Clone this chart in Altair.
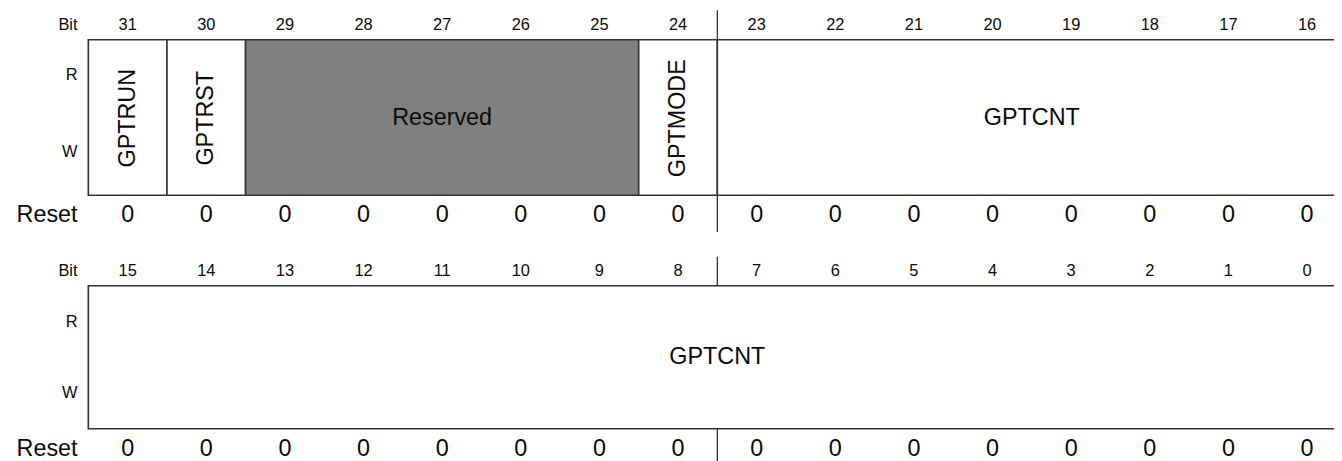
import altair as alt
import pandas as pd

# ---------------- data ----------------
BITS_ROW1 = [31, 30, 29, 28, 27, 26, 25, 24, 23, 22, 21, 20, 19, 18, 17, 16]
BITS_ROW2 = [15, 14, 13, 12, 11, 10, 9, 8, 7, 6, 5, 4, 3, 2, 1, 0]
RESET_ROW1 = [0, 0, 0, 0, 0, 0, 0, 0, 0, 0, 0, 0, 0, 0, 0, 0]
RESET_ROW2 = [0, 0, 0, 0, 0, 0, 0, 0, 0, 0, 0, 0, 0, 0, 0, 0]

FIELD_NAMES = ["GPTRUN", "GPTRST", "Reserved", "GPTMODE", "GPTCNT", "GPTCNT"]
FIELD_MSB = [31, 30, 29, 24, 23, 15]
FIELD_LSB = [31, 30, 25, 24, 16, 0]
FIELD_ROW = [1, 1, 1, 1, 1, 2]
FIELD_RESERVED = [False, False, True, False, False, False]
FIELD_VERTICAL = [True, True, False, True, False, False]

ACCESS_LABELS = ["R", "W"]
DIVIDER_BIT = {1: 23, 2: 7}   # byte boundary marker (left edge of this bit)

# ---------------- layout ----------------
FONT = "Liberation Sans"
BIG, SMALL = 23.5, 16.5
W, H = 1334, 453
LEFT_PX = 88.8 - 8      # box left edge in plot pixels
COL_PX = 79.1           # one bit column in pixels
DMIN = -LEFT_PX / COL_PX
DMAX = DMIN + W / COL_PX
XS = alt.Scale(domain=[DMIN, DMAX], nice=False, zero=False)
LABEL_COL = (78 - 88.8) / COL_PX   # right edge of side labels in column units

ROW_Y = {
    1: dict(bit=16, top=30.5, r=66, w=144, bot=187, reset=207, mid=109.5, d0=1, d1=224),
    2: dict(bit=263, top=278, r=315, w=386, bot=422, reset=442, mid=350, d0=249, d1=470),
}
ROW_MSB = {1: 31, 2: 15}
BITS = {1: BITS_ROW1, 2: BITS_ROW2}
RESETS = {1: RESET_ROW1, 2: RESET_ROW2}

fields = pd.DataFrame({
    "name": FIELD_NAMES, "msb": FIELD_MSB, "lsb": FIELD_LSB, "row": FIELD_ROW,
    "reserved": FIELD_RESERVED, "vertical": FIELD_VERTICAL,
})
fields["x0"] = fields.apply(lambda r: ROW_MSB[r["row"]] - r["msb"], axis=1)
fields["x1"] = fields.apply(lambda r: ROW_MSB[r["row"]] - r["lsb"] + 1, axis=1)
fields["xm"] = (fields["x0"] + fields["x1"]) / 2
fields["fill"] = fields["reserved"].map({True: "#808080", False: "#ffffff"})

TXT = "#0a0a0a"
layers = []
for row in (1, 2):
    L = ROW_Y[row]
    fd = fields[fields["row"] == row]

    bits = pd.DataFrame({"bit": BITS[row], "reset": RESETS[row]})
    bits["xc"] = ROW_MSB[row] - bits["bit"] + 0.5

    layers.append(
        alt.Chart(fd).mark_rect(stroke="#333333", strokeWidth=1.6).encode(
            x=alt.X("x0:Q", scale=XS, axis=None), x2="x1:Q",
            y=alt.value(L["top"]), y2=alt.value(L["bot"]),
            fill=alt.Color("fill:N", scale=None),
        )
    )
    hz = fd[~fd["vertical"]]
    if len(hz):
        layers.append(
            alt.Chart(hz).mark_text(fontSize=BIG, color=TXT, baseline="middle", align="center").encode(
                x=alt.X("xm:Q", scale=XS, axis=None), y=alt.value(L["mid"]), text="name:N")
        )
    vt = fd[fd["vertical"]]
    if len(vt):
        layers.append(
            alt.Chart(vt).mark_text(fontSize=BIG, color=TXT, angle=270, baseline="middle", align="center").encode(
                x=alt.X("xm:Q", scale=XS, axis=None), y=alt.value(L["mid"]), text="name:N")
        )
    layers.append(
        alt.Chart(bits).mark_text(fontSize=SMALL, color=TXT, baseline="middle").encode(
            x=alt.X("xc:Q", scale=XS, axis=None), y=alt.value(L["bit"]), text="bit:N")
    )
    layers.append(
        alt.Chart(bits).mark_text(fontSize=BIG, color=TXT, baseline="middle").encode(
            x=alt.X("xc:Q", scale=XS, axis=None), y=alt.value(L["reset"]), text="reset:N")
    )
    # side labels
    for label, key, size in [("Bit", "bit", SMALL), (ACCESS_LABELS[0], "r", SMALL),
                             (ACCESS_LABELS[1], "w", SMALL), ("Reset", "reset", BIG)]:
        layers.append(
            alt.Chart(pd.DataFrame({"t": [label], "x": [LABEL_COL]})).mark_text(
                fontSize=size, color=TXT, align="right", baseline="middle").encode(
                x=alt.X("x:Q", scale=XS, axis=None), y=alt.value(L[key]), text="t:N")
        )
    # byte divider: drawn above and below the register box only
    div = pd.DataFrame({"x": [ROW_MSB[row] - DIVIDER_BIT[row]]})
    for y0, y1 in [(L["d0"], L["top"]), (L["bot"], L["d1"])]:
        layers.append(
            alt.Chart(div).mark_rule(color="#222222", strokeWidth=1.2).encode(
                x=alt.X("x:Q", scale=XS, axis=None), y=alt.value(y0), y2=alt.value(y1))
        )

chart = alt.layer(*layers).properties(
    width=W, height=H, padding=0, autosize=alt.AutoSizeParams(type="none"),
).configure_view(stroke=None).configure_text(font=FONT)

chart.save("out.html", embed_options={"renderer": "svg", "actions": False})
